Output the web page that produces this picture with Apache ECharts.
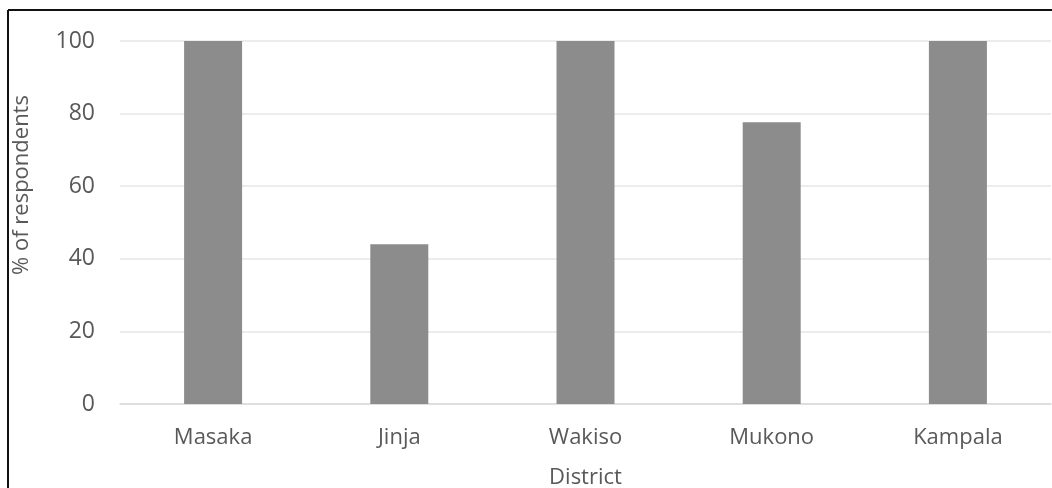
<!DOCTYPE html>
<html>
<head>
<meta charset="utf-8">
<script src="https://cdn.jsdelivr.net/npm/echarts@6/dist/echarts.min.js"></script>
<style>
html,body{margin:0;padding:0;background:#fff;}
#c{width:1052px;height:488px;}
</style>
</head>
<body>
<div id="c"></div>
<script>
const categories = ['Masaka', 'Jinja', 'Wakiso', 'Mukono', 'Kampala'];
const values = [100, 44, 100, 77.6, 100];
const yTicks = [0, 20, 40, 60, 80, 100];

const chart = echarts.init(document.getElementById('c'), null, {renderer: 'canvas'});
const font = '"Open Sans", Lato, "DejaVu Sans", sans-serif';
chart.setOption({
  animation: false,
  backgroundColor: '#fff',
  grid: {left: 120, right: 1, top: 41, bottom: 84, containLabel: false, outerBoundsMode: 'none'},
  xAxis: {
    type: 'category',
    data: categories,
    name: 'District',
    nameLocation: 'middle',
    nameGap: 63,
    nameTextStyle: {color: '#595959', fontSize: 22, fontFamily: font},
    axisLine: {show: true, lineStyle: {color: '#d9d9d9', width: 1.5}},
    axisTick: {show: false},
    axisLabel: {color: '#595959', fontSize: 22, fontFamily: font, margin: 23}
  },
  yAxis: {
    type: 'value',
    min: yTicks[0],
    max: yTicks[yTicks.length - 1],
    interval: yTicks[1] - yTicks[0],
    axisLine: {show: false},
    axisTick: {show: false},
    splitLine: {lineStyle: {color: '#e6e6e6', width: 1.5}},
    axisLabel: {color: '#595959', fontSize: 23, fontFamily: font, margin: 25}
  },
  series: [{
    type: 'bar',
    data: values,
    barWidth: 58,
    itemStyle: {color: '#8c8c8c'}
  }],
  graphic: [
    {type: 'line', shape: {x1: 8, y1: 10, x2: 1052, y2: 10}, style: {stroke: '#111', lineWidth: 2}},
    {type: 'line', shape: {x1: 8, y1: 10, x2: 8, y2: 488}, style: {stroke: '#111', lineWidth: 2}},
    {type: 'text', x: 22, y: 185, rotation: Math.PI / 2,
     style: {text: '% of respondents', fill: '#595959', fontSize: 22, fontFamily: font, align: 'center', verticalAlign: 'middle'}}
  ]
});
</script>
</body>
</html>
